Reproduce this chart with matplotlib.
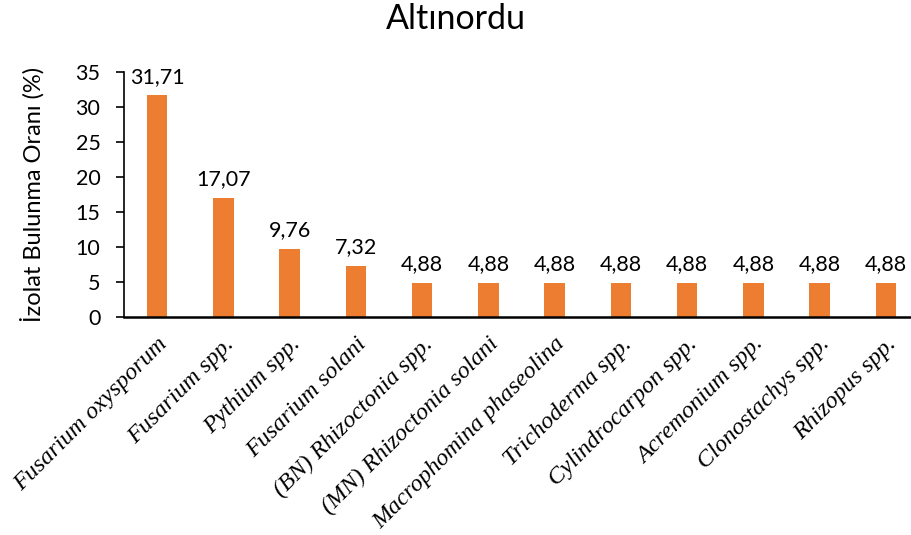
import matplotlib
matplotlib.use("Agg")
import matplotlib.pyplot as plt

categories = [
    "Fusarium oxysporum", "Fusarium spp.", "Pythium spp.", "Fusarium solani",
    "(BN) Rhizoctonia spp.", "(MN) Rhizoctonia solani", "Macrophomina phaseolina",
    "Trichoderma spp.", "Cylindrocarpon spp.", "Acremonium spp.",
    "Clonostachys spp.", "Rhizopus spp.",
]
values = [31.71, 17.07, 9.76, 7.32, 4.88, 4.88, 4.88, 4.88, 4.88, 4.88, 4.88, 4.88]
yticks = [0, 5, 10, 15, 20, 25, 30, 35]

sans = ["Lato", "DejaVu Sans"]
serif = ["Liberation Serif", "DejaVu Serif"]

fig = plt.figure(figsize=(9.12, 5.35), dpi=100)
ax = fig.add_axes([124 / 912, 1 - 317 / 535, 795 / 912, 245 / 535])

x = list(range(len(categories)))
ax.bar(x, values, width=0.31, color="#ED7D31", zorder=2)

for xi, v in zip(x, values):
    ax.text(xi, v + 1.2, f"{v:.2f}".replace(".", ","), ha="center", va="bottom",
            fontsize=15.5, family=sans, color="#000000")

ax.set_xlim(-0.5, len(categories) - 0.5)
ax.set_ylim(0, 35)
ax.set_yticks(yticks)
ax.set_yticklabels([str(t) for t in yticks], family=sans, fontsize=15.5)
ax.set_xticks(x)
ax.set_xticklabels(categories, rotation=45, ha="right", rotation_mode="anchor",
                   family=serif, style="italic", fontsize=17.5)
ax.tick_params(axis="x", length=0, pad=12)
ax.tick_params(axis="y", direction="out", length=6, width=1.2, pad=11)

for side in ("top", "right"):
    ax.spines[side].set_visible(False)
ax.spines["left"].set_linewidth(1.2)
ax.spines["bottom"].set_linewidth(1.8)

ax.set_ylabel("İzolat Bulunma Oranı (%)", family=sans, fontsize=17, labelpad=22)
fig.text(0.5, 1 - 19 / 535, "Altınordu", ha="center", va="center",
         family=sans, fontsize=24.5)

fig.savefig("out.png", dpi=100)
